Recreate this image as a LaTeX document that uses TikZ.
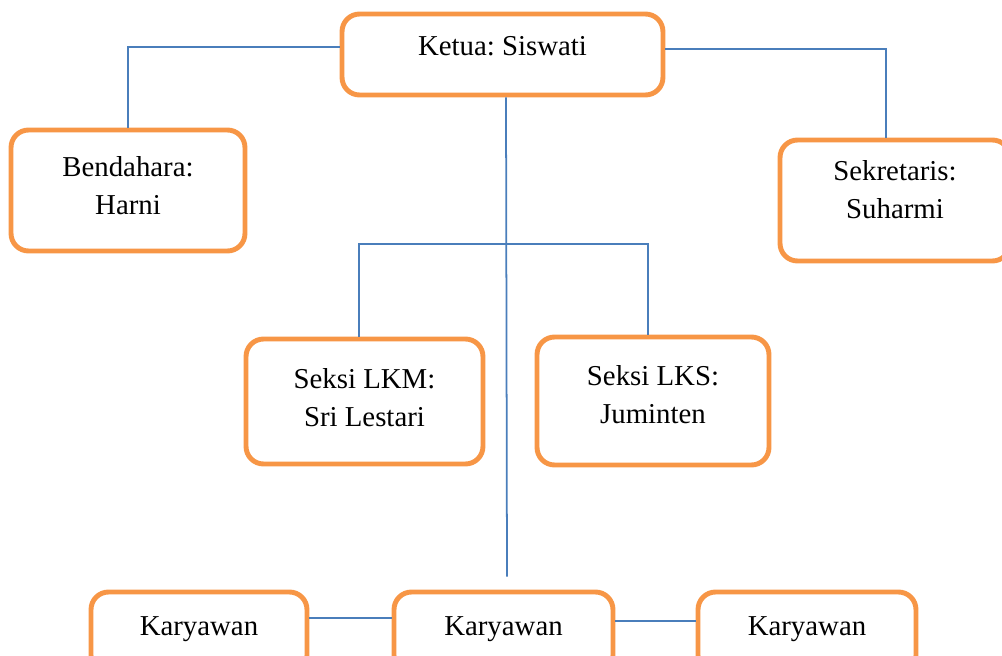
\documentclass[tikz,border=0pt]{standalone}
\usepackage{fontspec}
\setmainfont{Liberation Serif}
\frenchspacing
\definecolor{boxorange}{HTML}{F79646}
\definecolor{lineblue}{HTML}{4A7EBB}

\begin{document}
\begin{tikzpicture}[x=0.02cm, y=-0.02cm,
    unit/.style={draw=boxorange, line width=2.8pt, rounded corners=0.35cm, fill=white, inner sep=0pt},
    txt/.style={font=\fontsize{16.4}{21.5}\selectfont, align=center},
    link/.style={draw=lineblue, line width=1pt}]
    \useasboundingbox (0,0) rectangle (1002,656);
    \clip (0,0) rectangle (1002,656);

    % pengurus
    \node[unit, minimum width=6.42cm, minimum height=1.62cm,
      label={[txt, yshift=4.5pt]center:Ketua: Siswati}] (ketua) at (502.5,54.5) {};
    \node[unit, minimum width=4.68cm, minimum height=2.42cm,
      label={[txt, yshift=2.8pt]center:Bendahara:\\Harni}] (bendahara) at (128,190.5) {};
    \node[unit, minimum width=4.6cm, minimum height=2.42cm,
      label={[txt, yshift=6.2pt]center:Sekretaris:\\Suharmi}] (sekretaris) at (895,200.5) {};

    % seksi
    \node[unit, minimum width=4.74cm, minimum height=2.5cm,
      label={[txt, yshift=2.3pt]center:Seksi LKM:\\Sri Lestari}] (lkm) at (364.5,401.5) {};
    \node[unit, minimum width=4.64cm, minimum height=2.56cm,
      label={[txt, yshift=3.4pt]center:Seksi LKS:\\Juminten}] (lks) at (653,401) {};

    % karyawan
    \node[unit, minimum width=4.32cm, minimum height=1.62cm,
      label={[txt, yshift=2.1pt]center:Karyawan}] (kary1) at (199,632.5) {};
    \node[unit, minimum width=4.38cm, minimum height=1.62cm,
      label={[txt, yshift=2.1pt]center:Karyawan}] (kary2) at (503.5,632.5) {};
    \node[unit, minimum width=4.36cm, minimum height=1.62cm,
      label={[txt, yshift=2.1pt]center:Karyawan}] (kary3) at (807,632.5) {};

    \coordinate (fork) at (507,244);

    \draw[link] ([yshift=0.15cm]ketua.west) -| (bendahara.north);
    \draw[link] ([yshift=0.11cm]ketua.east) -| ([xshift=-0.18cm]sekretaris.north);
    \draw[link] ([xshift=0.07cm]ketua.south) -- ([xshift=0.07cm, yshift=0.26cm]kary2.north);
    \draw[link] ([xshift=-0.11cm]lkm.north) |- (fork) -| ([xshift=-0.1cm]lks.north);
    \draw[link] ([yshift=0.29cm]kary1.east) -- ([yshift=0.29cm]kary2.west);
    \draw[link] ([yshift=0.23cm]kary2.east) -- ([yshift=0.23cm]kary3.west);
\end{tikzpicture}
\end{document}
